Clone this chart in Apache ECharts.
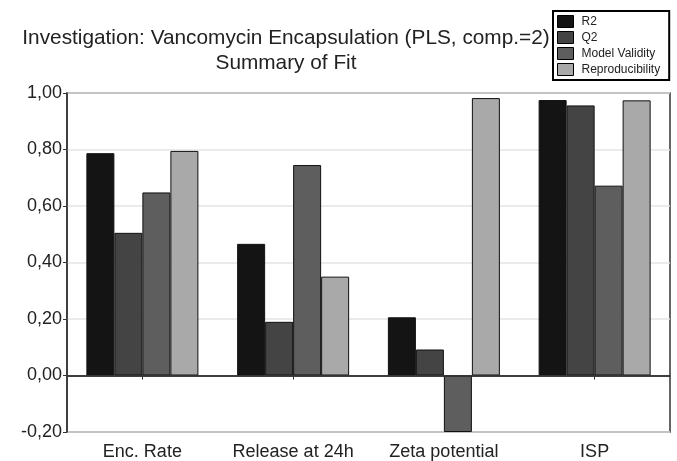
<!DOCTYPE html>
<html><head><meta charset="utf-8">
<script src="https://cdn.jsdelivr.net/npm/echarts@6/dist/echarts.min.js"></script>
<style>html,body{margin:0;padding:0;background:#fff}#c{width:677px;height:461px}</style>
</head><body><div id="c"></div>
<script>
const categories = ['Enc. Rate', 'Release at 24h', 'Zeta potential', 'ISP'];
const seriesNames = ['R2', 'Q2', 'Model Validity', 'Reproducibility'];
const r2 = [0.787, 0.466, 0.206, 0.975];
const q2 = [0.505, 0.190, 0.092, 0.956];
const modelValidity = [0.648, 0.745, -0.200, 0.672];
const reproducibility = [0.795, 0.350, 0.982, 0.974];
const yTicks = [-0.2, 0, 0.2, 0.4, 0.6, 0.8, 1.0];
const colors = ['#141414', '#444444', '#5e5e5e', '#a9a9a9'];
const values = [r2, q2, modelValidity, reproducibility];

const chart = echarts.init(document.getElementById('c'));
chart.setOption({
  animation: false,
  textStyle: {fontFamily: 'Liberation Sans, Arial, sans-serif'},
  title: {
    text: 'Investigation: Vancomycin Encapsulation (PLS, comp.=2)\nSummary of Fit',
    left: 281, top: 21, textAlign: 'center',
    textStyle: {fontSize: 20.8, fontWeight: 'normal', color: '#222', lineHeight: 25}
  },
  legend: {
    data: seriesNames,
    orient: 'vertical',
    left: 553, top: 11,
    padding: [4, 9, 4, 4],
    itemGap: 3,
    itemWidth: 16, itemHeight: 12,
    icon: 'rect',
    borderColor: '#000', borderWidth: 2,
    textStyle: {fontSize: 12, color: '#222', lineHeight: 12, padding: [0, 0, 0, 3]},
    itemStyle: {borderColor: '#000', borderWidth: 1}
  },
  grid: {left: 67, right: 7, top: 93, bottom: 28, show: true, borderColor: '#333', borderWidth: 1.5},
  xAxis: [{
    type: 'category', data: categories,
    axisLine: {show: true, onZero: true, lineStyle: {color: '#333', width: 1.5}},
    axisTick: {show: true, alignWithLabel: true, length: 4, lineStyle: {color: '#333'}},
    axisLabel: {show: false}
  }, {
    type: 'category', data: categories, position: 'bottom',
    axisLine: {show: false, onZero: false},
    axisTick: {show: false},
    axisLabel: {fontSize: 18, color: '#222', margin: 11, interval: 0}
  }],
  yAxis: {
    type: 'value', min: -0.2, max: 1.0, interval: 0.2,
    axisLine: {show: true, lineStyle: {color: '#333', width: 1.5}},
    axisTick: {show: true, length: 4, lineStyle: {color: '#333'}},
    axisLabel: {fontSize: 18, color: '#222', margin: 5,
      formatter: v => v.toFixed(2).replace('.', ',')},
    splitLine: {show: true, lineStyle: {color: '#e4e4e4', width: 1.5}}
  },
  series: seriesNames.map((n, i) => ({
    name: n, type: 'bar', data: values[i],
    barWidth: 28, barGap: '0%',
    itemStyle: {color: colors[i], borderColor: '#111', borderWidth: 1},
    markLine: i === 0 ? {silent: true, symbol: 'none', label: {show: false},
      lineStyle: {color: '#333', width: 1.5, type: 'solid'}, data: [{yAxis: 0}]} : undefined
  }))
});
</script></body></html>
